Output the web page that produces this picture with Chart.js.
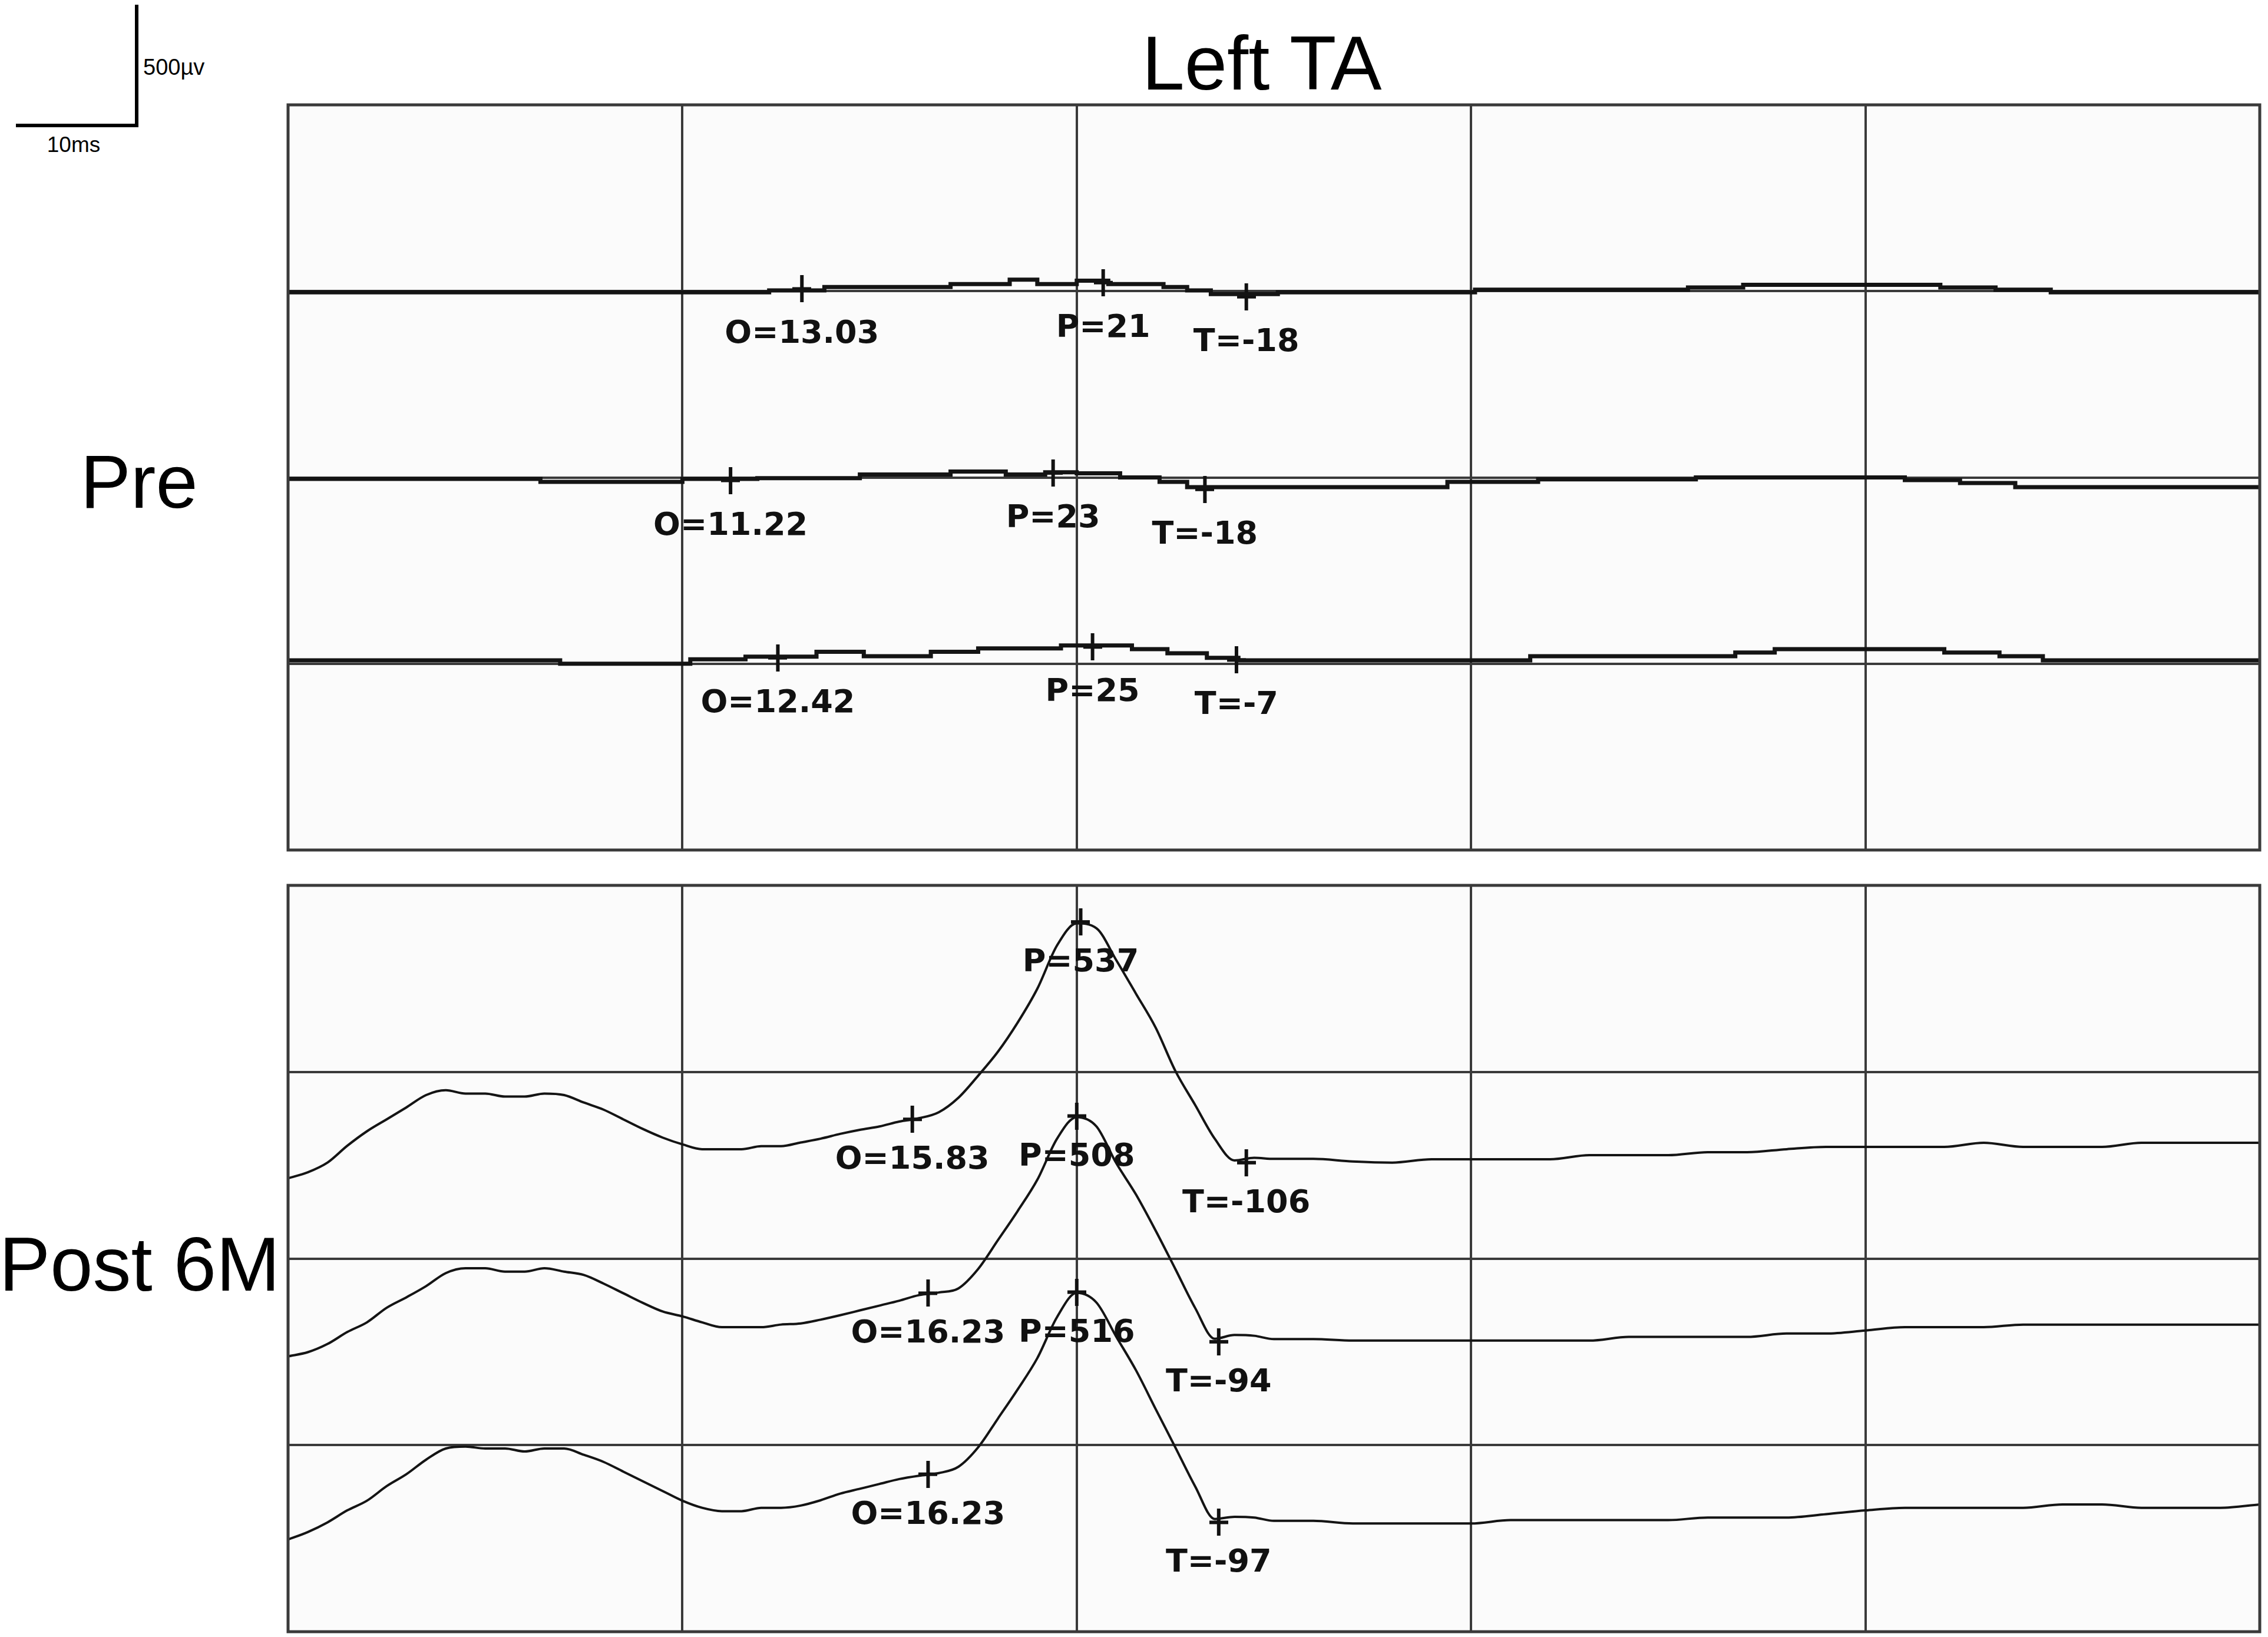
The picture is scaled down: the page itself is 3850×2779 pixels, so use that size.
<!DOCTYPE html>
<html>
<head>
<meta charset="utf-8">
<title>Left TA</title>
<script src="https://cdn.jsdelivr.net/npm/chart.js@4.4.0/dist/chart.umd.min.js"></script>
<style>
html, body { margin: 0; padding: 0; background: #fff; }
body { width: 3850px; height: 2779px; position: relative; overflow: hidden; font-family: "Liberation Sans", Arial, sans-serif; color: #000; }
.lbl { position: absolute; line-height: 1; white-space: nowrap; }
.bar { position: absolute; background: #000; }
canvas { position: absolute; }
</style>
</head>
<body>
<div class="bar" style="left:229px; top:8px; width:6px; height:208px;"></div>
<div class="bar" style="left:27px; top:210px; width:208px; height:6px;"></div>
<div class="lbl" style="left:243px; top:95px; font-size:38px;">500µv</div>
<div class="lbl" style="left:125px; top:227px; font-size:37px; transform:translateX(-50%);">10ms</div>
<div class="lbl" style="left:2142px; top:42px; font-size:130px; transform:translateX(-50%);">Left TA</div>
<div class="lbl" style="left:236px; top:754px; font-size:128px; transform:translateX(-50%);">Pre</div>
<div class="lbl" style="left:237px; top:2081px; font-size:130px; transform:translateX(-50%);">Post 6M</div>
<canvas id="chPre"></canvas>
<canvas id="chPost"></canvas>
<script>
// time axis (ms) and amplitude grid (µV, 500 per division)
var msTicks = [0, 10, 20, 30, 40, 50];
var uvTicks = [-1000, -500, 0, 500, 1000];
var traceOffsets = [500, 0, -500];

// Pre: three nearly flat sweeps, stored as plateau starts (ms) and levels (µV)
var preMs1 = [0, 12.2, 13.6, 16.8, 18.3, 19.0, 20.0, 20.8, 22.2, 22.8, 23.4, 25.1, 30.1, 35.5, 36.9, 41.9, 43.3, 44.7, 50];
var preUv1 = [-3, 2, 11, 19, 31, 19, 28, 19, 11, 2, -8, -3, 4, 10, 17, 10, 4, -3, -3];
var preMs2 = [0, 6.4, 10, 11.9, 14.5, 16.8, 18.2, 19.2, 20, 21.1, 22.1, 22.8, 29.4, 31.7, 35.7, 41, 42.4, 43.8, 50];
var preUv2 = [-4, -12, -4, -2, 8, 16, 8, 14, 11, 0, -12, -26, -12, -5, 0, -7, -15, -26, -26];
var preMs3 = [0, 6.9, 10.2, 11.6, 13.4, 14.6, 16.3, 17.5, 19.6, 21.4, 22.3, 23.3, 24.1, 31.5, 36.7, 37.7, 42, 43.4, 44.5, 50];
var preUv3 = [9, 0, 12, 19, 32, 20, 32, 41, 49, 39, 28, 16, 9, 20, 30, 39, 30, 20, 9, 9];

var preMarkMs = [[13.03, 20.67, 24.3], [11.22, 19.4, 23.25], [12.42, 20.4, 24.05]];
var preMarkUv = [[6, 23, -15], [-8, 12, -32], [16, 45, 10]];
var preMarkText = [['O=13.03', 'P=21', 'T=-18'], ['O=11.22', 'P=23', 'T=-18'], ['O=12.42', 'P=25', 'T=-7']];

// Post 6M: three sweeps sampled on a shared time base
var postMs = [0, 0.5, 1, 1.5, 2, 2.5, 3, 3.5, 4, 4.5, 5, 5.5, 6, 6.5, 7, 7.5, 8, 8.5, 9, 9.5,
  10, 10.5, 11, 11.5, 12, 12.5, 13, 13.5, 14, 14.5, 15, 15.5, 16, 16.5, 17, 17.5, 18, 18.5, 19, 19.5,
  20, 20.5, 21, 21.5, 22, 22.5, 23, 23.5, 24, 24.5, 25,
  26, 27, 28, 29, 30, 31, 32, 33, 34, 35, 36, 37, 38, 39, 40, 41, 42, 43, 44, 45, 46, 47, 48, 49, 50];
var postUv1 = [-285, -269, -243, -198, -159, -127, -95, -62, -49, -58,
  -58, -66, -66, -58, -62, -82, -101, -127, -153, -176,
  -194, -207, -207, -207, -199, -199, -189, -179, -166, -155,
  -146, -133, -124, -108, -69, -10, 54, 132, 223, 339,
  398, 385, 300, 210, 119, 3, -88, -179, -237, -230,
  -233,
  -233, -240, -243, -234, -234, -234, -234, -223, -223, -223, -215, -215, -207, -201, -201, -201, -201, -190, -201, -201, -201, -190, -190, -190, -190];
var postUv2 = [-262, -251, -229, -197, -171, -132, -104, -74, -39, -26,
  -26, -35, -35, -26, -35, -44, -67, -93, -119, -142,
  -155, -171, -184, -184, -184, -177, -174, -164, -152, -139,
  -126, -113, -98, -91, -80, -28, 49, 127, 211, 321,
  379, 354, 256, 172, 75, -28, -132, -215, -205, -207,
  -216,
  -216, -220, -220, -220, -220, -220, -220, -220, -210, -210, -210, -210, -201, -201, -193, -184, -184, -184, -177, -177, -177, -177, -177, -177, -177];
var postUv3 = [-253, -233, -207, -175, -149, -110, -78, -39, -9, -4,
  -9, -9, -17, -9, -9, -26, -45, -71, -97, -123,
  -149, -168, -177, -177, -168, -168, -162, -148, -130, -117,
  -104, -91, -82, -75, -58, -6, 71, 149, 233, 343,
  408, 382, 291, 201, 97, -6, -110, -198, -192, -194,
  -203,
  -203, -210, -210, -210, -210, -201, -201, -201, -201, -201, -194, -194, -194, -185, -175, -168, -168, -168, -168, -159, -159, -168, -168, -168, -159];

var postMarkMs = [[15.83, 20.1, 24.3], [16.23, 20.0, 23.6], [16.23, 20.0, 23.6]];
var postMarkUv = [[-127, 402, -243], [-93, 382, -223], [-78, 410, -207]];
var postMarkText = [['O=15.83', 'P=537', 'T=-106'], ['O=16.23', 'P=508', 'T=-94'], ['O=16.23', 'P=516', 'T=-97']];

var PAD = 10;
var gridColor = '#3a3a3a';
var markFont = "bold 54px 'DejaVu Sans', 'Liberation Sans', sans-serif";

// "+" cursor used by the EMG software for O / P / T marks
function plusMark() {
    var c = document.createElement('canvas');
    c.width = 32;
    c.height = 46;
    var g = c.getContext('2d');
    g.fillStyle = '#111';
    g.fillRect(13, 0, 6, 46);
    g.fillRect(0, 20, 32, 6);
    return c;
}
var markImg = plusMark();

var panelFrame = {
    id: 'panelFrame',
    beforeDraw: function (chart) {
        var a = chart.chartArea, c = chart.ctx;
        c.save();
        c.fillStyle = '#fbfbfb';
        c.fillRect(a.left, a.top, a.right - a.left, a.bottom - a.top);
        c.restore();
    },
    afterDraw: function (chart) {
        var a = chart.chartArea, c = chart.ctx;
        c.save();
        c.strokeStyle = gridColor;
        c.lineWidth = 5;
        c.strokeRect(a.left, a.top, a.right - a.left, a.bottom - a.top);
        c.restore();
    }
};

var markLabels = {
    id: 'markLabels',
    afterDatasetsDraw: function (chart) {
        var c = chart.ctx;
        c.save();
        c.font = markFont;
        c.fillStyle = '#111';
        c.textAlign = 'center';
        c.textBaseline = 'middle';
        chart.data.datasets.forEach(function (ds, i) {
            if (!ds.markText) return;
            chart.getDatasetMeta(i).data.forEach(function (pt, j) {
                c.fillText(ds.markText[j], pt.x, pt.y + ds.markGap);
            });
        });
        c.restore();
    }
};

function points(xs, ys, off) {
    return xs.map(function (x, i) { return { x: x, y: ys[i] + off }; });
}

function traceSet(xs, ys, k, width, stepped) {
    return {
        data: points(xs, ys, traceOffsets[k]),
        borderColor: '#141414',
        borderWidth: width,
        pointRadius: 0,
        stepped: stepped,
        cubicInterpolationMode: 'monotone',
        fill: false
    };
}

function markSet(xs, ys, k, texts, gap) {
    return {
        data: points(xs, ys, traceOffsets[k]),
        showLine: false,
        pointStyle: markImg,
        pointRadius: 20,
        markText: texts,
        markGap: gap
    };
}

function makePanel(id, box, datasets) {
    var el = document.getElementById(id);
    el.width = box.w + 2 * PAD;
    el.height = box.h + 2 * PAD;
    el.style.left = (box.x - PAD) + 'px';
    el.style.top = (box.y - PAD) + 'px';
    var axisGrid = { color: gridColor, lineWidth: 4, drawTicks: false };
    return new Chart(el, {
        type: 'line',
        data: { datasets: datasets },
        options: {
            responsive: false,
            animation: false,
            devicePixelRatio: 1,
            layout: { padding: PAD, autoPadding: false },
            plugins: { legend: { display: false }, tooltip: { enabled: false } },
            scales: {
                x: {
                    type: 'linear', min: msTicks[0], max: msTicks[msTicks.length - 1],
                    afterBuildTicks: function (s) { s.ticks = msTicks.map(function (v) { return { value: v }; }); },
                    ticks: { display: false },
                    grid: axisGrid,
                    border: { display: false }
                },
                y: {
                    type: 'linear', min: uvTicks[0], max: uvTicks[uvTicks.length - 1],
                    afterBuildTicks: function (s) { s.ticks = uvTicks.map(function (v) { return { value: v }; }); },
                    ticks: { display: false },
                    grid: axisGrid,
                    border: { display: false }
                }
            }
        },
        plugins: [panelFrame, markLabels]
    });
}

var preSets = [
    traceSet(preMs1, preUv1, 0, 7, 'before'),
    traceSet(preMs2, preUv2, 1, 7, 'before'),
    traceSet(preMs3, preUv3, 2, 7, 'before')
];
var postSets = [
    traceSet(postMs, postUv1, 0, 4, false),
    traceSet(postMs, postUv2, 1, 4, false),
    traceSet(postMs, postUv3, 2, 4, false)
];
for (var k = 0; k < 3; k++) {
    preSets.push(markSet(preMarkMs[k], preMarkUv[k], k, preMarkText[k], 78));
    postSets.push(markSet(postMarkMs[k], postMarkUv[k], k, postMarkText[k], 70));
}

makePanel('chPre', { x: 489, y: 178, w: 3347, h: 1265 }, preSets);
makePanel('chPost', { x: 489, y: 1503, w: 3347, h: 1267 }, postSets);
</script>
</body>
</html>
